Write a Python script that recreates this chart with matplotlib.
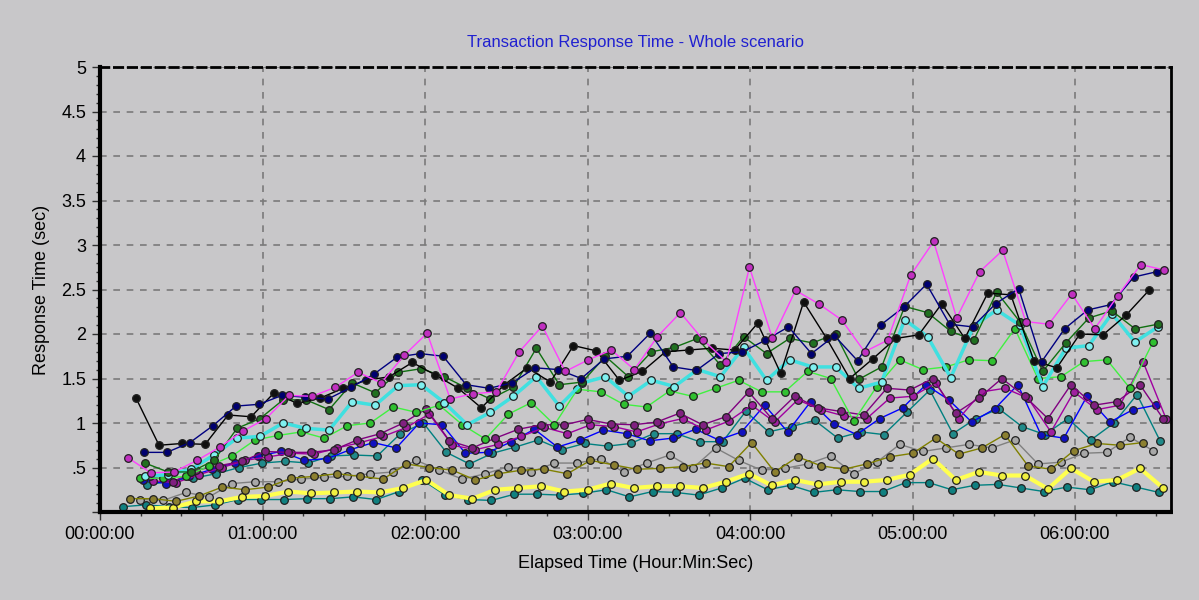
import numpy as np
import matplotlib
matplotlib.use("Agg")
import matplotlib.pyplot as plt
from matplotlib.ticker import MultipleLocator, FuncFormatter

plt.rcParams['font.family'] = ['Liberation Sans', 'DejaVu Sans']

# sampling interval of the scenario, minutes
step_min = 8.5

# first sample of each transaction, minutes after start
start_magenta = 10.3
start_navy = 16.2
start_black = 13.3
start_dkgreen = 16.6
start_cyan = 16.6
start_ltgreen = 14.8
start_purple = 18.5
start_violet = 19.6
start_blue = 15.9
start_teal = 17.4
start_olive = 11.1
start_gray = 14.8
start_yellow = 18.5
start_dkteal = 8.5

# response times (sec)
magenta = [0.61, 0.44, 0.45, 0.58, 0.73, 0.91, 1.05, 1.31, 1.30, 1.40, 1.57, 1.45,
           1.76, 2.01, 1.27, 1.33, 1.35, 1.80, 2.09, 1.58, 1.71, 1.82, 1.60, 1.97,
           2.24, 1.93, 1.69, 2.75, 1.95, 2.49, 2.34, 2.16, 1.80, 1.93, 2.66, 3.04,
           2.18, 2.70, 2.94, 2.14, 2.11, 2.45, 2.06, 2.43, 2.78, 2.72]
navy = [0.67, 0.67, 0.78, 0.97, 1.19, 1.21, 1.31, 1.29, 1.27, 1.40, 1.55, 1.74,
        1.78, 1.75, 1.43, 1.39, 1.45, 1.62, 1.60, 1.50, 1.72, 1.75, 2.01, 1.63,
        1.59, 1.78, 1.80, 1.93, 2.08, 1.78, 1.98, 1.70, 2.10, 2.30, 2.56, 2.11,
        2.08, 2.34, 2.51, 1.69, 2.06, 2.27, 2.33, 2.64, 2.70]
black = [1.28, 0.75, 0.77, 0.76, 1.09, 1.07, 1.34, 1.22, 1.28, 1.39, 1.48, 1.52,
         1.68, 1.54, 1.39, 1.17, 1.43, 1.62, 1.46, 1.87, 1.81, 1.48, 1.58, 1.80,
         1.82, 1.84, 1.82, 2.12, 1.56, 2.36, 1.95, 1.50, 1.72, 1.95, 1.99, 2.34,
         1.95, 2.46, 2.44, 1.70, 1.62, 2.00, 1.99, 2.21, 2.49]
dkgreen = [0.55, 0.45, 0.45, 0.58, 0.94, 1.05, 1.26, 1.26, 1.15, 1.45, 1.34, 1.57,
           1.61, 1.52, 1.39, 1.27, 1.40, 1.84, 1.43, 1.46, 1.75, 1.52, 1.80, 1.85,
           1.95, 1.65, 1.97, 1.78, 1.95, 1.90, 2.00, 1.49, 1.63, 2.31, 2.24, 2.03,
           1.93, 2.47, 2.14, 1.58, 1.90, 2.18, 2.26, 2.06, 2.11]
cyan = [0.40, 0.42, 0.48, 0.64, 0.83, 0.85, 1.00, 0.94, 0.92, 1.24, 1.20, 1.42,
        1.43, 1.23, 0.98, 1.12, 1.30, 1.52, 1.19, 1.45, 1.52, 1.30, 1.48, 1.41,
        1.60, 1.52, 1.85, 1.48, 1.71, 1.63, 1.63, 1.39, 1.46, 2.16, 1.97, 1.51,
        2.09, 2.27, 2.10, 1.41, 1.84, 1.87, 2.23, 1.91, 2.08]
ltgreen = [0.38, 0.38, 0.40, 0.52, 0.63, 0.81, 0.86, 0.90, 0.83, 0.97, 1.00, 1.18,
           1.12, 1.20, 0.98, 0.82, 1.10, 1.23, 0.98, 1.38, 1.35, 1.21, 1.18, 1.36,
           1.30, 1.39, 1.48, 1.35, 1.35, 1.58, 1.50, 1.02, 1.41, 1.71, 1.60, 1.63,
           1.71, 1.70, 2.06, 1.50, 1.52, 1.69, 1.71, 1.39, 1.91]
purple = [0.40, 0.34, 0.47, 0.52, 0.57, 0.68, 0.67, 0.67, 0.70, 0.81, 0.88, 1.00,
          1.16, 0.80, 0.72, 0.83, 0.93, 0.98, 0.98, 1.04, 0.99, 0.98, 1.01, 1.11,
          0.98, 1.07, 1.35, 1.05, 1.30, 1.17, 1.13, 1.09, 1.39, 1.37, 1.50, 1.11,
          1.28, 1.50, 1.30, 1.05, 1.43, 1.20, 1.24, 1.43, 1.05]
violet = [0.35, 0.33, 0.42, 0.50, 0.58, 0.62, 0.66, 0.65, 0.72, 0.78, 0.85, 0.95,
          1.10, 0.75, 0.70, 0.76, 0.85, 0.95, 0.88, 0.98, 0.96, 0.90, 0.99, 1.05,
          0.92, 1.02, 1.20, 1.01, 1.26, 1.15, 1.08, 1.05, 1.28, 1.30, 1.45, 1.05,
          1.35, 1.39, 1.28, 0.90, 1.35, 1.15, 1.20, 1.69, 1.05]
blue = [0.36, 0.32, 0.40, 0.48, 0.55, 0.63, 0.68, 0.58, 0.60, 0.70, 0.78, 0.72,
        1.00, 0.98, 0.66, 0.67, 0.79, 0.93, 0.73, 0.81, 0.92, 0.88, 0.80, 0.83,
        0.93, 0.81, 0.90, 1.20, 0.90, 1.24, 0.99, 0.87, 1.05, 1.17, 1.43, 1.26,
        1.01, 1.16, 1.43, 0.87, 0.83, 1.30, 1.01, 1.15, 1.20]
teal = [0.30, 0.35, 0.38, 0.43, 0.50, 0.55, 0.57, 0.55, 0.63, 0.64, 0.63, 0.88,
        1.00, 0.67, 0.54, 0.66, 0.73, 0.81, 0.70, 0.77, 0.74, 0.77, 0.88, 0.88,
        0.79, 0.79, 1.13, 0.90, 0.96, 1.03, 0.83, 0.90, 0.87, 1.12, 1.37, 0.88,
        1.05, 1.16, 0.96, 0.87, 1.05, 0.81, 1.00, 1.32, 0.80]
olive = [0.15, 0.15, 0.12, 0.18, 0.28, 0.25, 0.28, 0.38, 0.40, 0.43, 0.40, 0.37,
         0.54, 0.50, 0.47, 0.36, 0.43, 0.47, 0.48, 0.43, 0.58, 0.53, 0.48, 0.49,
         0.51, 0.55, 0.51, 0.78, 0.45, 0.62, 0.52, 0.48, 0.54, 0.62, 0.66, 0.83,
         0.65, 0.72, 0.87, 0.52, 0.48, 0.69, 0.77, 0.75, 0.78]
gray = [0.14, 0.13, 0.22, 0.17, 0.32, 0.34, 0.34, 0.37, 0.39, 0.40, 0.43, 0.45,
        0.58, 0.47, 0.37, 0.43, 0.51, 0.45, 0.55, 0.55, 0.60, 0.45, 0.55, 0.64,
        0.49, 0.72, 0.58, 0.47, 0.49, 0.54, 0.63, 0.43, 0.56, 0.76, 0.68, 0.72,
        0.76, 0.72, 0.81, 0.54, 0.56, 0.66, 0.67, 0.84, 0.69]
yellow = [0.04, 0.05, 0.12, 0.12, 0.17, 0.18, 0.23, 0.21, 0.22, 0.23, 0.22, 0.27,
          0.36, 0.19, 0.15, 0.25, 0.27, 0.29, 0.23, 0.25, 0.32, 0.27, 0.29, 0.29,
          0.27, 0.34, 0.43, 0.30, 0.36, 0.31, 0.34, 0.34, 0.36, 0.42, 0.60, 0.36,
          0.45, 0.41, 0.41, 0.26, 0.49, 0.34, 0.36, 0.49, 0.27]
dkteal = [0.06, 0.08, 0.06, 0.05, 0.08, 0.14, 0.14, 0.14, 0.15, 0.15, 0.17, 0.14,
          0.23, 0.36, 0.19, 0.14, 0.13, 0.20, 0.20, 0.19, 0.21, 0.25, 0.17, 0.23,
          0.22, 0.19, 0.27, 0.38, 0.25, 0.30, 0.22, 0.25, 0.23, 0.23, 0.33, 0.33,
          0.25, 0.30, 0.31, 0.27, 0.23, 0.28, 0.25, 0.34, 0.28, 0.22]

# (values, first sample, line colour, marker colour, line width)
series = [
    (dkteal, start_dkteal, '#008080', '#108080', 1.0),
    (yellow, start_yellow, '#ffff50', '#f0f040', 3.0),
    (gray, start_gray, '#808080', '#a8a8a8', 1.0),
    (olive, start_olive, '#808000', '#8c8030', 1.0),
    (teal, start_teal, '#008080', '#208a8a', 1.0),
    (blue, start_blue, '#0000ff', '#1010c0', 1.0),
    (violet, start_violet, '#a000a0', '#a020a0', 1.0),
    (purple, start_purple, '#800080', '#802080', 1.0),
    (ltgreen, start_ltgreen, '#40f040', '#30c030', 1.0),
    (cyan, start_cyan, '#40e0e0', '#80f0f0', 2.5),
    (dkgreen, start_dkgreen, '#107010', '#207020', 1.0),
    (black, start_black, '#000000', '#101010', 1.0),
    (navy, start_navy, '#000080', '#000070', 1.0),
    (magenta, start_magenta, '#ff40ff', '#c030c0', 1.0),
]

bg = '#c8c7c9'
fig = plt.figure(figsize=(11.99, 6.0), dpi=100, facecolor=bg)
ax = fig.add_axes([100 / 1199, 1 - 512 / 600, 1071 / 1199, 445 / 600])
ax.set_facecolor(bg)

for vals, start, lc, mc, lw in series:
    t = (start + step_min * np.arange(len(vals))) / 60.0
    ax.plot(t, vals, color=lc, linewidth=lw, marker='o', markersize=5.5,
            markerfacecolor=mc, markeredgecolor='#202020', markeredgewidth=0.9,
            clip_on=False)

ax.set_xlim(0, 1071 / 162.5)
ax.set_ylim(0, 5)

ax.xaxis.set_major_locator(MultipleLocator(1))
ax.xaxis.set_minor_locator(MultipleLocator(0.25))
ax.yaxis.set_major_locator(MultipleLocator(0.5))
ax.yaxis.set_minor_locator(MultipleLocator(0.1))


def hms(h, pos):
    s = int(round(h * 3600))
    return "%02d:%02d:%02d" % (s // 3600, (s % 3600) // 60, s % 60)


def ylab(v, pos):
    if v < 0.01:
        return ""
    if abs(v - 0.5) < 0.01:
        return ".5"
    return "%g" % v


ax.xaxis.set_major_formatter(FuncFormatter(hms))
ax.yaxis.set_major_formatter(FuncFormatter(ylab))
ax.tick_params(axis='both', which='major', direction='out', length=6, width=1,
               color='#303030', labelsize=13, pad=4)
ax.tick_params(axis='both', which='minor', direction='out', length=3, width=1,
               color='#303030')

ax.grid(True, which='major', color='#7a7a7a', linestyle=(0, (4, 4)), linewidth=1.2)
ax.set_axisbelow(True)

ax.spines['left'].set_linewidth(3)
ax.spines['left'].set_color('black')
ax.spines['right'].set_linewidth(2)
ax.spines['right'].set_color('black')
ax.spines['top'].set_linewidth(2)
ax.spines['top'].set_linestyle((0, (3, 2)))
ax.spines['bottom'].set_linewidth(3)
ax.spines['bottom'].set_linestyle((0, (2, 1)))

fig.text(0.5 * (100 + 1171) / 1199, 1 - 42 / 600,
         "Transaction Response Time - Whole scenario",
         ha='center', va='center', color='#2020d0', fontsize=12)
# in the original the axis title sits on the tick digits; kept just clear of them
fig.text(42 / 1199, 1 - 289.5 / 600, "Response Time (sec)", rotation=90,
         ha='center', va='center', fontsize=13)
fig.text(0.5 * (100 + 1171) / 1199, 1 - 563 / 600, "Elapsed Time (Hour:Min:Sec)",
         ha='center', va='center', fontsize=13)

fig.savefig("out.png", dpi=100, facecolor=bg)
